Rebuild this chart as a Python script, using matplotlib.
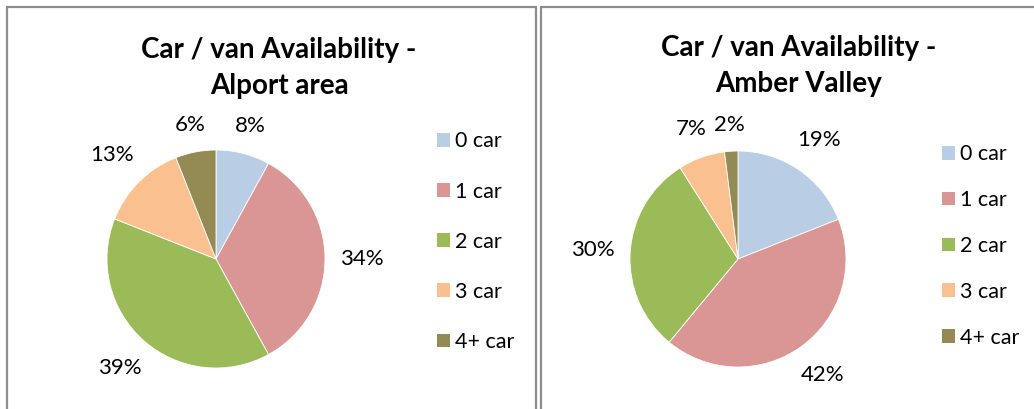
import numpy as np
import matplotlib.pyplot as plt
from matplotlib.patches import Rectangle

# data
categories = ['0 car', '1 car', '2 car', '3 car', '4+ car']
alport_share = [8, 34, 39, 13, 6]
amber_share = [19, 42, 30, 7, 2]
titles = ['Car / van Availability -\nAlport area',
          'Car / van Availability -\nAmber Valley']
colors = ['#B9CDE5', '#D99694', '#9BBB59', '#FAC090', '#948A54']

W, H = 1034, 409
plt.rcParams['font.family'] = ['Lato', 'DejaVu Sans']

fig = plt.figure(figsize=(W / 100, H / 100), dpi=100)

# the two chart frames (pixel layout)
frames = [(7, 536), (541, W + 10)]
for x0, x1 in frames:
    fig.patches.append(Rectangle((x0 / W, -0.1), (x1 - x0) / W, (H - 7) / H + 0.1,
                                 transform=fig.transFigure, fill=False,
                                 edgecolor='#8c8c8c', lw=1.6))

# layout per panel: pie centre/radius, title centre, legend anchor, row spacing
layouts = [
    dict(cx=216, cy=259, r=109, tx=279, ty=68, lx=437, ly=140, spacing=1.40),
    dict(cx=738, cy=259, r=108, tx=799, ty=66, lx=942, ly=153, spacing=1.20),
]
leg_fs = 15.5
fs_px = leg_fs * 100 / 72

renderer = fig.canvas.get_renderer()
for values, title, lay in zip([alport_share, amber_share], titles, layouts):
    r = lay['r']
    ax = fig.add_axes([(lay['cx'] - r) / W, (H - lay['cy'] - r) / H, 2 * r / W, 2 * r / H])
    wedges, _, autotexts = ax.pie(values, colors=colors, startangle=90, counterclock=False,
                                  autopct='%1.0f%%', pctdistance=1.3,
                                  wedgeprops=dict(edgecolor='white', linewidth=0.6),
                                  textprops=dict(fontsize=16, color='black'))
    ax.set_xlim(-1, 1)
    ax.set_ylim(-1, 1)
    ax.set_aspect('auto')
    ax.axis('off')

    # place each label just outside the pie, clearing its own box
    gap = 15
    for w, t in zip(wedges, autotexts):
        t.set_ha('center')
        t.set_va('center')
        bb = t.get_window_extent(renderer)
        ang = np.deg2rad((w.theta1 + w.theta2) / 2)
        c, s = np.cos(ang), np.sin(ang)
        half = (bb.width / 2 * abs(c) + bb.height / 2 * abs(s))
        d = 1 + (gap + half) / r
        t.set_position((d * c, d * s))

    fig.text(lay['tx'] / W, 1 - lay['ty'] / H, title, ha='center', va='center',
             fontsize=20, fontweight='bold', linespacing=1.5)

    leg = ax.legend(wedges, categories, loc='upper left',
                    bbox_to_anchor=(lay['lx'] / W, 1 - (lay['ly'] - 0.4 * fs_px) / H),
                    bbox_transform=fig.transFigure, frameon=False,
                    fontsize=leg_fs, handlelength=0.6, handleheight=0.6,
                    handletextpad=0.25, labelspacing=lay['spacing'],
                    borderpad=0, borderaxespad=0)
    for h in leg.legend_handles:
        h.set_edgecolor('none')

fig.savefig('out.png', dpi=100)
